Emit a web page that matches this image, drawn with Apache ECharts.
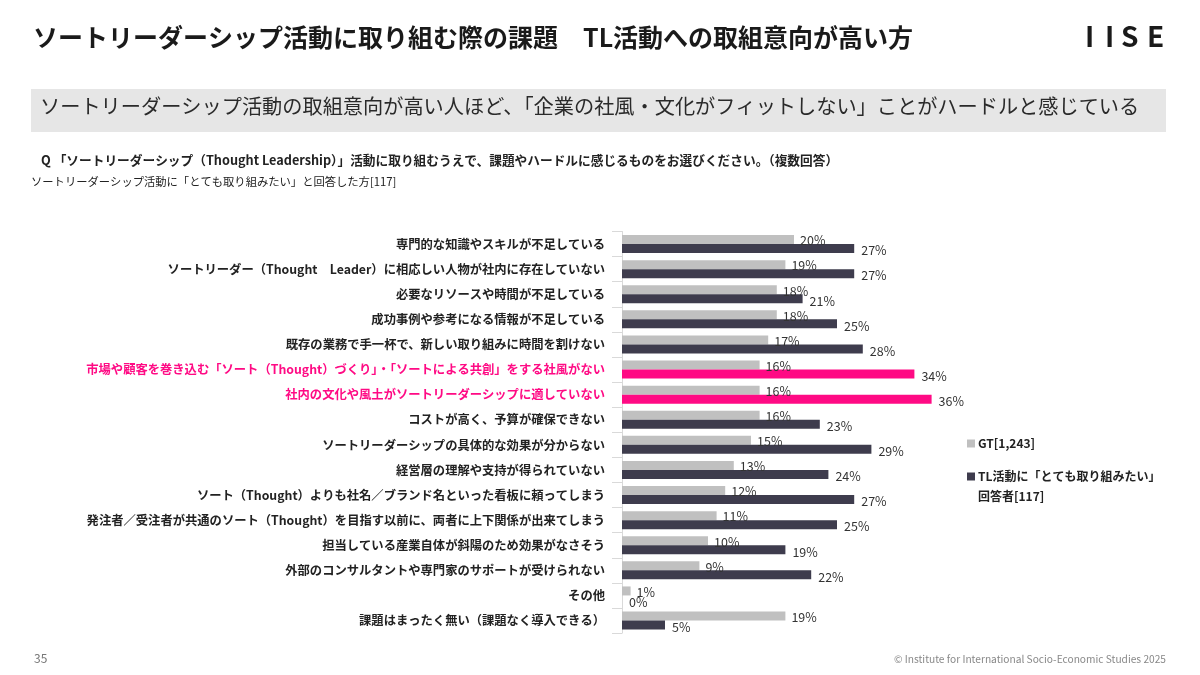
<!DOCTYPE html>
<html>
<head>
<meta charset="utf-8">
<script src="https://cdn.jsdelivr.net/npm/echarts@6/dist/echarts.min.js"></script>
<style>
  html, body { margin: 0; padding: 0; background: #fff; }
  #chart { width: 1200px; height: 675px; }
</style>
</head>
<body>
<div id="chart"></div>
<script>
// 課題項目（上から順）
const categories = [
  '専門的な知識やスキルが不足している',
  'ソートリーダー（Thought　Leader）に相応しい人物が社内に存在していない',
  '必要なリソースや時間が不足している',
  '成功事例や参考になる情報が不足している',
  '既存の業務で手一杯で、新しい取り組みに時間を割けない',
  '市場や顧客を巻き込む「ソート（Thought）づくり」・「ソートによる共創」をする社風がない',
  '社内の文化や風土がソートリーダーシップに適していない',
  'コストが高く、予算が確保できない',
  'ソートリーダーシップの具体的な効果が分からない',
  '経営層の理解や支持が得られていない',
  'ソート（Thought）よりも社名／ブランド名といった看板に頼ってしまう',
  '発注者／受注者が共通のソート（Thought）を目指す以前に、両者に上下関係が出来てしまう',
  '担当している産業自体が斜陽のため効果がなさそう',
  '外部のコンサルタントや専門家のサポートが受けられない',
  'その他',
  '課題はまったく無い（課題なく導入できる）'
];
const gtValues = [20, 19, 18, 18, 17, 16, 16, 16, 15, 13, 12, 11, 10, 9, 1, 19];
const tlValues = [27, 27, 21, 25, 28, 34, 36, 23, 29, 24, 27, 25, 19, 22, 0, 5];
const highlight = [5, 6]; // ピンクで強調する行

const seriesNames = ['GT[1,243]', 'TL活動に「とても取り組みたい」'];
const legendSub = '回答者[117]'; // 凡例2行目

const FONT = '"Noto Sans CJK JP", "Noto Sans", sans-serif';
const GREY = '#c0c0c0';
const DARK = '#3e3c4d';
const PINK = '#ff0a84';

const chart = echarts.init(document.getElementById('chart'), null, { renderer: 'canvas' });

// ロゴ文字は一文字ずつ配置
const logo = [['I', 1085], ['I', 1105], ['S', 1121], ['E', 1147]].map(([t, x]) => ({
  type: 'text', left: x, top: 22,
  style: { text: t, font: 'bold 28px ' + FONT, fill: '#1a1a1a' }
}));

const option = {
  backgroundColor: '#fff',
  textStyle: { fontFamily: FONT },
  animation: false,
  graphic: [
    {
      type: 'rect',
      shape: { x: 31, y: 89, width: 1135, height: 43 },
      style: { fill: '#e6e6e6' },
      silent: true
    },
    {
      type: 'text', left: 33, top: 25,
      style: {
        text: 'ソートリーダーシップ活動に取り組む際の課題　TL活動への取組意向が高い方',
        font: 'bold 25px ' + FONT, fill: '#1a1a1a'
      }
    },
    ...logo,
    {
      type: 'text', left: 40, top: 96,
      style: {
        text: 'ソートリーダーシップ活動の取組意向が高い人ほど、「企業の社風・文化がフィットしない」ことがハードルと感じている',
        font: '20.2px ' + FONT, fill: '#2a2a2a'
      }
    },
    {
      type: 'text', left: 41, top: 154,
      style: {
        text: 'Q 「ソートリーダーシップ（Thought Leadership）」活動に取り組むうえで、課題やハードルに感じるものをお選びください。（複数回答）',
        font: 'bold 12.7px ' + FONT, fill: '#222'
      }
    },
    {
      type: 'text', left: 31, top: 176,
      style: {
        text: 'ソートリーダーシップ活動に「とても取り組みたい」と回答した方[117]',
        font: '11.3px ' + FONT, fill: '#222'
      }
    },
    {
      type: 'text', left: 978, top: 490,
      style: { text: legendSub, font: 'bold 12px ' + FONT, fill: '#222' }
    },
    {
      type: 'text', left: 34, top: 652,
      style: { text: '35', font: '12px ' + FONT, fill: '#777' }
    },
    {
      type: 'text', right: 34, top: 654,
      style: { text: '© Institute for International Socio-Economic Studies 2025', font: '10.2px ' + FONT, fill: '#888' }
    }
  ],
  legend: {
    orient: 'vertical',
    left: 967,
    top: 436.5,
    padding: 0,
    itemWidth: 8,
    itemHeight: 8,
    itemGap: 19,
    icon: 'rect',
    data: seriesNames,
    textStyle: {
      fontFamily: FONT, fontSize: 12, fontWeight: 'bold', color: '#222',
      lineHeight: 14, padding: [0, 0, 0, -2]
    }
  },
  grid: {
    left: 622,
    top: 231.5,
    width: 344,
    height: 401.6,
    containLabel: false
  },
  xAxis: {
    type: 'value',
    min: 0,
    max: 40,
    show: false
  },
  yAxis: {
    type: 'category',
    inverse: true,
    data: categories,
    axisLine: { show: true, lineStyle: { color: '#d9d9d9', width: 1 } },
    axisTick: { show: true, length: 10, lineStyle: { color: '#d9d9d9' } },
    axisLabel: {
      margin: 17,
      fontSize: 12.3,
      fontWeight: 'bold',
      fontFamily: FONT,
      verticalAlign: 'middle',
      padding: [0, 0, 3, 0],
      color: (value, index) => highlight.indexOf(index) >= 0 ? PINK : '#222'
    }
  },
  series: [
    {
      name: seriesNames[0],
      type: 'bar',
      data: gtValues,
      barWidth: 9,
      barGap: '0%',
      itemStyle: { color: GREY },
      label: {
        show: true,
        position: 'right',
        distance: 6,
        offset: [0, 1],
        formatter: '{c}%',
        fontSize: 12.5,
        color: '#333',
        fontFamily: FONT
      }
    },
    {
      name: seriesNames[1],
      type: 'bar',
      data: tlValues.map((v, i) => highlight.indexOf(i) >= 0
        ? { value: v, itemStyle: { color: PINK } }
        : v),
      barWidth: 9,
      itemStyle: { color: DARK },
      label: {
        show: true,
        position: 'right',
        distance: 7,
        offset: [0, 2],
        formatter: '{c}%',
        fontSize: 12.5,
        color: '#333',
        fontFamily: FONT
      }
    }
  ]
};

chart.setOption(option);
</script>
</body>
</html>
